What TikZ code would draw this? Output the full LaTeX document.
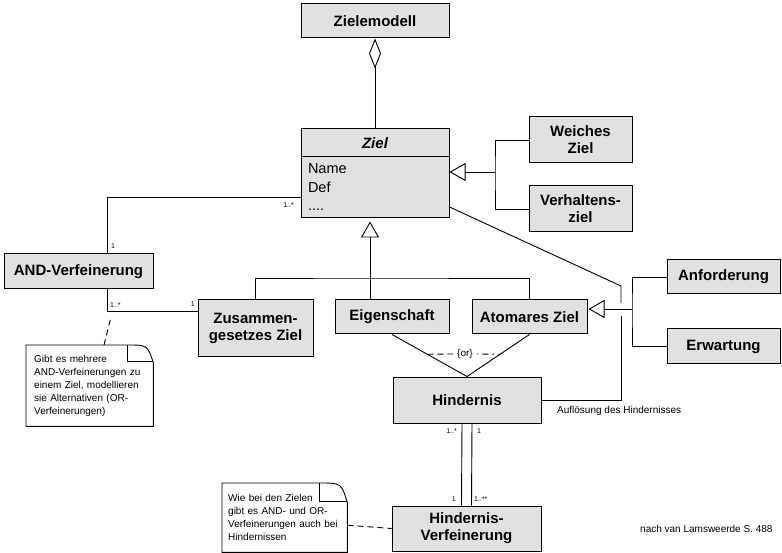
\documentclass[tikz,border=0pt]{standalone}
\usepackage{fontspec}
\setmainfont{Liberation Sans}
\usetikzlibrary{arrows.meta}
\definecolor{boxgray}{RGB}{225,225,225}

\begin{document}
\begin{tikzpicture}[x=1pt, y=-1pt,
        every node/.style={inner sep=0pt, font=\fontsize{10}{13}\selectfont},
        klasse/.style={draw, fill=boxgray, line width=1pt, align=center, font=\fontsize{15}{17}\selectfont\bfseries},
        notiz/.style={anchor=north west, align=left},
        mult/.style={font=\fontsize{7}{8}\selectfont},
        line/.style={line width=0.9pt},
        gen/.style={line width=0.9pt, -{Triangle[open, length=16pt, width=18pt]}},
        gestrichelt/.style={line width=0.9pt, dash pattern=on 6pt off 4pt}
      ]
        \useasboundingbox (0,0) rectangle (782,553);

        \node[klasse, minimum width=148pt, minimum height=34pt] (modell) at (375,21) {Zielemodell};
        \node[klasse, minimum width=148pt, minimum height=28pt, font=\fontsize{15}{17}\selectfont\bfseries\itshape] (ziel) at (375,143) {Ziel};
        \node[klasse, font=\fontsize{14.5}{18.5}\selectfont, align=left, text width=134pt, inner xsep=7pt, minimum height=61pt] (attr) at (375,187.5) {Name\\Def\\....};
        \node[klasse, minimum width=103pt, minimum height=46pt] (weich) at (580.5,140) {Weiches\\Ziel};
        \node[klasse, minimum width=103pt, minimum height=46pt] (verh) at (580.5,209) {Verhaltens-\\ziel};
        \node[klasse, minimum width=149pt, minimum height=35pt] (andv) at (78.5,271.5) {AND-Verfeinerung};
        \node[klasse, minimum width=115pt, minimum height=57pt] (zus) at (255.5,328.5) {Zusammen-\\gesetzes Ziel};
        \node[klasse, minimum width=114pt, minimum height=34pt] (eig) at (392,317) {Eigenschaft};
        \node[klasse, minimum width=115pt, minimum height=34pt] (atom) at (529.5,317) {Atomares Ziel};
        \node[klasse, minimum width=113pt, minimum height=34pt] (anf) at (723.5,277) {Anforderung};
        \node[klasse, minimum width=113pt, minimum height=35pt] (erw) at (723.5,346.5) {Erwartung};
        \node[klasse, minimum width=148pt, minimum height=46pt] (hind) at (467,400) {Hindernis};
        \node[klasse, minimum width=149pt, minimum height=45pt] (hverf) at (466.5,528.5) {Hindernis-\\Verfeinerung};

        \node[notiz, minimum width=127pt, minimum height=81pt, text width=111pt, inner xsep=8pt] (notiz1) at (26,345) {Gibt es mehrere\\AND-Verfeinerungen zu\\einem Ziel, modellieren\\sie Alternativen (OR-\\Verfeinerungen)};
        \node[notiz, minimum width=125pt, minimum height=69pt, text width=113pt, inner xsep=6pt] (notiz2) at (222,483) {Wie bei den Zielen\\gibt es AND- und OR-\\Verfeinerungen auch bei\\Hindernissen};

        \draw[line] (notiz1.north west) -- ([xshift=-26pt]notiz1.north east) .. controls ([xshift=-6pt]notiz1.north east) .. ([yshift=-18pt]notiz1.north east) -- (notiz1.south east) -- (notiz1.south west) -- cycle;
        \draw[line] ([xshift=-26pt]notiz1.north east) -- ([xshift=-26pt,yshift=-16pt]notiz1.north east) -- ([yshift=-16pt]notiz1.north east);
        \draw[line] (notiz2.north west) -- ([xshift=-28pt]notiz2.north east) .. controls ([xshift=-6pt]notiz2.north east) .. ([yshift=-20pt]notiz2.north east) -- (notiz2.south east) -- (notiz2.south west) -- cycle;
        \draw[line] ([xshift=-28pt]notiz2.north east) -- ([xshift=-28pt,yshift=-18pt]notiz2.north east) -- ([yshift=-18pt]notiz2.north east);

        \draw[line, {Diamond[open, length=30pt, width=12pt]}-] (modell.south) -- (ziel.north);

        \coordinate (gz) at (370,278);
        \draw[line] (zus.north) |- (gz) -| (atom.north);
        \draw[line] (gz |- eig.north) -- (gz);
        \draw[gen, shorten >=3pt] (gz) -- (gz |- attr.south);

        \coordinate (gw) at (495,172);
        \draw[line] (weich.west) -| (gw) |- (verh.west);
        \draw[gen] (gw) -- (gw -| attr.east);

        \coordinate (ga) at (632,309);
        \draw[line] (anf.west) -| (ga) |- (erw.west);
        \draw[gen, shorten >=1pt] (ga) -- (ga -| atom.east);

        \coordinate (knick) at (621,286);
        \coordinate (luecke1) at (621,303);
        \coordinate (luecke2) at (621,316);
        \coordinate (ecke) at (621,400);
        \draw[line] ([yshift=-19.5pt]attr.east) -- (knick) -- (luecke1);
        \draw[line] (luecke2) -- (ecke) -- (hind.east);
        \node[anchor=west] (aufl) at (557,411) {Auflösung des Hindernisses};

        \draw[line] (eig.south) -- coordinate[pos=0.47] (or1) (hind.north);
        \draw[line] (atom.south) -- coordinate[pos=0.47] (or2) (hind.north);
        \node[inner xsep=4pt] (oder) at (465,354) {\{or\}};
        \draw[gestrichelt] (or1) -- (oder.west);
        \draw[line, dash pattern=on 1.5pt off 4pt on 6pt off 4pt] (oder.east) -- (or2);

        \coordinate (a1) at (107,197);
        \draw[line] (attr.west |- a1) -- (a1) -- (a1 |- andv.north);
        \node[mult, anchor=east] (m1) at (294,205) {1..*};
        \node[mult, anchor=west] (m2) at (111,246) {1};

        \coordinate (a2) at (107,311);
        \draw[line] (a2 |- andv.south) -- (a2) -- (a2 -| zus.west);
        \node[mult, anchor=west] (m3) at (110,305) {1..*};
        \node[mult, anchor=east] (m4) at (195,304) {1};
        \draw[gestrichelt] ([xshift=78pt]notiz1.north west) -- ([xshift=4pt,yshift=-6pt]a2);

        \draw[line] ([xshift=-5pt]hind.south) -- ([xshift=-5pt]hverf.north);
        \draw[line] ([xshift=5pt]hind.south) -- ([xshift=5pt]hverf.north);
        \node[mult, anchor=east] (m5) at (457,431) {1..*};
        \node[mult, anchor=west] (m6) at (477,431) {1};
        \node[mult, anchor=east] (m7) at (456,499) {1};
        \node[mult, anchor=west] (m8) at (474,499) {1..**};

        \draw[gestrichelt] ([yshift=-7.5pt]notiz2.east) -- (hverf.west);

        \node[anchor=west] (quelle) at (640,529) {nach van Lamsweerde S. 488};
      \end{tikzpicture}
\end{document}
